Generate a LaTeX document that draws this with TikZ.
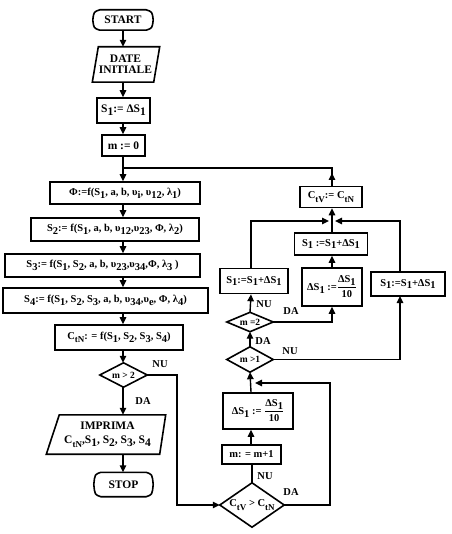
\documentclass[tikz,border=0pt]{standalone}
\usepackage{fontspec}
\setmainfont{Liberation Serif}
\usetikzlibrary{arrows.meta,calc}
\newcommand\sbs[1]{\raisebox{-0.6ex}{#1}}
\newcommand\ssb[1]{\raisebox{-0.75ex}{\fontsize{9}{9}\selectfont #1}}
\newcommand\myfrac[1]{$\displaystyle\frac{\hbox{#1}}{\hbox{10}}$}
\begin{document}
\begin{tikzpicture}[x=1pt,y=-1pt,
  every node/.style={font=\fontsize{10.5}{12}\selectfont\bfseries, inner sep=0pt},
  big/.style={font=\fontsize{11.5}{12}\selectfont\bfseries},
  small/.style={font=\fontsize{10.5}{11}\selectfont\bfseries},
  dtext/.style={font=\fontsize{9.5}{10}\selectfont\bfseries},
  box/.style={draw, line width=1.6pt},
  plain/.style={draw=none},
  outl/.style={line width=1.6pt, line join=miter},
  conn/.style={line width=1.4pt},
  arr/.style={line width=1.4pt, -{Triangle[length=7pt,width=6.5pt]}},
  lbl/.style={font=\fontsize{10.5}{11}\selectfont\bfseries},
  ]
\fill[white] (0,0) rectangle (451,534);
\useasboundingbox (0,0) rectangle (451,534);

% ---- left column ----
\node[plain, big, minimum width=60, minimum height=20] (start) at (123,20) {START};
\node[plain, big, minimum width=62, minimum height=35, align=center] (date) at (125.5,64.5) {DATE\\[-1pt]INITIALE};
\node[box, big, minimum width=53, minimum height=25] (s1) at (123.5,110.5) {S\sbs{1}:= ΔS\sbs{1}};
\node[box, big, minimum width=43, minimum height=21] (m0) at (123.5,145.5) {m := 0};
\node[box, minimum width=150, minimum height=22] (phi) at (125,193) {Φ:=f(S\sbs1, a, b, υ\sbs{i}, υ\sbs{12}, λ\sbs1)};
\node[box, minimum width=168, minimum height=23] (s2) at (115,229.5) {S\sbs2:= f(S\sbs1, a, b, υ\sbs{12},υ\sbs{23}, Φ, λ\sbs2)};
\node[box, minimum width=195, minimum height=23] (s3) at (102.5,265.5) {S\sbs3:= f(S\sbs1, S\sbs2, a, b, υ\sbs{23},υ\sbs{34},Φ, λ\sbs3 )};
\node[box, minimum width=205, minimum height=25] (s4) at (105.5,300.5) {S\sbs4:= f(S\sbs1, S\sbs2, S\sbs3, a, b, υ\sbs{34},υ\sbs{e}, Φ, λ\sbs4)};
\node[box, minimum width=128, minimum height=25] (ctn) at (119,337.5) {C\ssb{tN}: = f(S\sbs1, S\sbs2, S\sbs3, S\sbs4)};
\node[plain, dtext, minimum width=47, minimum height=24] (d1) at (123.5,375) {m > 2};
\node[plain, big, minimum width=110, minimum height=39, align=center] (imp) at (107.5,434.5) {IMPRIMA\\[2pt]C\ssb{tN},S\sbs1, S\sbs2, S\sbs3, S\sbs4};
\node[plain, big, minimum width=59, minimum height=24] (stop) at (123.5,484.5) {STOP};

% ---- right part ----
\node[box, small, minimum width=62, minimum height=21] (ctv) at (331,197) {C\ssb{tV}:= C\ssb{tN}};
\node[box, small, minimum width=73, minimum height=22] (s1m) at (331,244) {S\sbs1 :=S\sbs1+ΔS\sbs1};
\node[box, small, minimum width=60, minimum height=38] (ds1) at (332,287) {ΔS\sbs1 :=\myfrac{ΔS\sbs1}};
\node[box, small, minimum width=68, minimum height=25] (s1l) at (254,281) {S\sbs1:=S\sbs1+ΔS\sbs1};
\node[box, small, minimum width=74, minimum height=24] (s1r) at (408,284) {S\sbs1:=S\sbs1+ΔS\sbs1};
\node[plain, dtext, minimum width=46, minimum height=19] (d2) at (250,322) {m =2};
\node[plain, dtext, minimum width=46, minimum height=25] (d3) at (250,359.5) {m >1};
\node[box, small, minimum width=70, minimum height=36] (ds2) at (258,411) {ΔS\sbs1 := \myfrac{ΔS\sbs1}};
\node[box, small, minimum width=59, minimum height=19] (mm) at (251.5,454.5) {m: = m+1};
\node[plain, small, minimum width=64, minimum height=44] (d4) at (252,505) {C\ssb{tV} > C\ssb{tN}};

% ---- outlines of special shapes ----
\foreach \n in {start,stop}{
  \draw[outl] ($(\n.north west)+(7,0)$) -- ($(\n.north east)+(-7,0)$)
    .. controls ($(\n.north east)+(-1,2)$) .. (\n.east)
    .. controls ($(\n.south east)+(-1,-2)$) .. ($(\n.south east)+(-7,0)$)
    -- ($(\n.south west)+(7,0)$)
    .. controls ($(\n.south west)+(1,-2)$) .. (\n.west)
    .. controls ($(\n.north west)+(1,2)$) .. cycle;
}
\draw[outl] ($(date.north west)+(4,0)$) -- ($(date.north east)+(3,0)$) -- ($(date.south east)+(-3,0)$) -- ($(date.south west)+(-2,0)$) -- cycle;
\draw[outl] ($(imp.north west)+(7,0)$) -- ($(imp.north east)+(3,0)$) -- ($(imp.south east)+(-3,0)$) -- ($(imp.south west)+(-6,0)$) -- cycle;
\foreach \n in {d1,d2,d3,d4}{
  \draw[outl] (\n.west) -- (\n.north) -- (\n.east) -- (\n.south) -- cycle;
}

% ---- labels ----
\node[lbl] (l1) at (160,364) {NU};
\node[lbl] (l2) at (143,401) {DA};
\node[lbl] (l3) at (265,476) {NU};
\node[lbl] (l4) at (291,492) {DA};
\node[lbl] (l5) at (290,351) {NU};
\node[lbl] (l6) at (263,341) {DA};
\node[lbl] (l7) at (264,304) {NU};
\node[lbl] (l8) at (291,311) {DA};

% ---- coordinates ----
\coordinate (jtop) at (123,168);
\coordinate (jtopr) at (332,168);
\coordinate (J1) at (332,221);
\coordinate (J2) at (251,383);

% ---- connectors, main column ----
\draw[arr] (start.south) -- (start.south |- date.north);
\draw[arr] (start.south |- date.south) -- (start.south |- s1.north);
\draw[arr] (start.south |- s1.south) -- (start.south |- m0.north);
\draw[conn] (start.south |- m0.south) -- (jtop);
\draw[arr] (jtop) -- (jtop |- phi.north);
\draw[arr] (start.south |- phi.south) -- (start.south |- s2.north);
\draw[arr] (start.south |- s2.south) -- (start.south |- s3.north);
\draw[arr] (start.south |- s3.south) -- (start.south |- s4.north);
\draw[arr] (start.south |- s4.south) -- (start.south |- ctn.north);
\draw[arr] (start.south |- ctn.south) -- (start.south |- d1.north);
\draw[arr] (start.south |- d1.south) -- (start.south |- imp.north);
\draw[arr] (start.south |- imp.south) -- (start.south |- stop.north);
\draw[arr] (d1.east) -- (177,375) -- (177,505) -- (d4.west);

% ---- connectors, right part ----
\draw[conn] (d4.north) -- (d4.north |- mm.south);
\draw[arr] (J2 |- mm.north) -- (J2 |- ds2.south);
\draw[arr] (J2 |- ds2.north) -- (d3.south);
\draw[arr] (d4.east) -- (330,505) -- (330,383) -- ($(J2)+(4,0)$);
\draw[arr] (d3.north) -- (d2.south);
\draw[arr] (d2.north) -- (J2 |- s1l.south);
\draw[arr] (d2.east) -- (d2.east -| ds1.south) -- (ds1.south);
\draw[arr] (d3.east) -- (400,359.5) -- (400,296);
\draw[arr] (J1 |- ds1.north) -- (J1 |- s1m.south);
\draw[arr] (J1 |- s1m.north) -- (J1 |- ctv.south);
\draw[arr] (J2 |- s1l.north) -- (J2 |- J1) -- ($(J1)+(-3,0)$);
\draw[arr] (400,272) -- (400,221) -- ($(J1)+(3,0)$);
\draw[conn] (J1 |- ctv.north) -- (jtopr) -- (jtop);
\draw[arr] (J1 |- ctv.north) -- ($(jtopr)+(0,5)$);
\end{tikzpicture}
\end{document}
